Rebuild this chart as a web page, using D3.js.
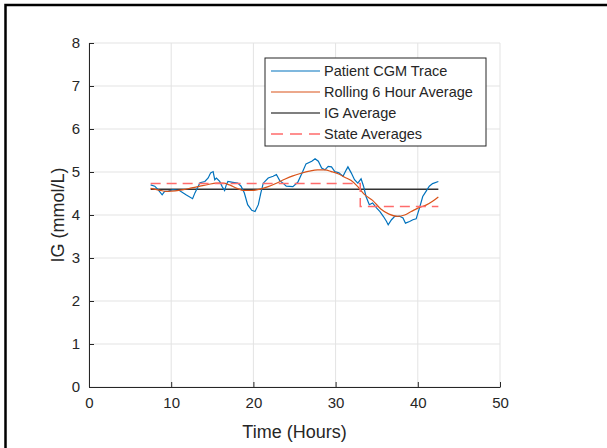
<!DOCTYPE html>
<html>
<head>
<meta charset="utf-8">
<script src="https://cdn.jsdelivr.net/npm/d3@7"></script>
<style>
  body { margin: 0; background: #fff; overflow: hidden; }
  text { font-family: "Liberation Sans", Arial, sans-serif; fill: #262626; }
</style>
</head>
<body>
<div id="chart"></div>
<script>
// CGM trace (hours, mmol/L)
var traceT = [7.5, 8.0, 8.4, 8.9, 9.2, 9.6, 10.2, 11.0, 11.8, 12.6, 12.9, 13.5, 14.1, 14.5, 14.8, 15.1, 15.3, 15.5, 15.9, 16.2,
              16.5, 16.7, 16.9, 17.5, 18.1, 18.5, 18.9, 19.3, 19.8, 20.2, 20.6, 20.9, 21.2, 21.8, 22.4, 22.8, 23.2, 23.6, 24.0, 24.8,
              25.4, 26.0, 26.4, 27.1, 27.5, 27.9, 28.3, 28.7, 29.1, 29.5, 29.9, 30.4, 30.9, 31.3, 31.5, 31.9, 32.3, 32.7, 33.1, 33.4,
              33.7, 34.1, 34.5, 35.0, 35.4, 35.8, 36.2, 36.4, 36.8, 37.2, 37.8, 38.2, 38.5, 39.0, 39.4, 39.8, 40.2, 40.6, 41.0, 41.4,
              41.8, 42.5];
var traceV = [4.70, 4.67, 4.59, 4.47, 4.55, 4.55, 4.59, 4.57, 4.47, 4.38, 4.52, 4.75, 4.78, 4.86, 4.98, 5.01, 4.82, 4.86, 4.78, 4.66,
              4.57, 4.70, 4.78, 4.76, 4.74, 4.67, 4.51, 4.24, 4.11, 4.08, 4.24, 4.51, 4.74, 4.86, 4.90, 4.94, 4.80, 4.74, 4.67, 4.66,
              4.76, 5.01, 5.19, 5.25, 5.31, 5.25, 5.09, 5.05, 5.13, 5.12, 5.01, 4.98, 4.90, 5.05, 5.12, 4.98, 4.82, 4.74, 4.84, 4.67,
              4.43, 4.24, 4.28, 4.16, 4.08, 3.97, 3.85, 3.77, 3.89, 3.97, 3.97, 3.93, 3.81, 3.85, 3.89, 3.91, 4.16, 4.43, 4.55, 4.67,
              4.73, 4.78];

// rolling 6 hour average
var rollT = [7.5, 8.5, 9.5, 10.5, 11.5, 12.5, 13.5, 14.5, 15.5, 16.3, 17.1, 18.0, 18.8, 19.8, 20.8, 21.8, 22.8, 23.8, 24.8, 25.8,
             26.8, 27.8, 28.7, 29.5, 30.3, 31.1, 31.9, 32.7, 33.5, 34.5, 35.5, 36.5, 37.5, 38.4, 39.2, 40.0, 41.0, 41.8, 42.5];
var rollV = [4.62, 4.58, 4.55, 4.56, 4.59, 4.63, 4.67, 4.71, 4.74, 4.74, 4.70, 4.62, 4.57, 4.57, 4.60, 4.66, 4.74, 4.83, 4.91, 4.97,
             5.02, 5.05, 5.05, 5.01, 4.96, 4.88, 4.80, 4.66, 4.48, 4.34, 4.14, 4.02, 3.97, 4.00, 4.08, 4.16, 4.23, 4.32, 4.42];

var igAverage = 4.60;
var stateT = [7.5, 33.0, 42.5];
var stateV = [4.73, 4.20, 4.20];

var xTicks = [0, 10, 20, 30, 40, 50];
var yTicks = [0, 1, 2, 3, 4, 5, 6, 7, 8];
var legendLabels = ["Patient CGM Trace", "Rolling 6 Hour Average", "IG Average", "State Averages"];

var W = 607, H = 448;
var margin = {left: 89, top: 43, right: 107, bottom: 61};
var iw = W - margin.left - margin.right, ih = H - margin.top - margin.bottom;

var svg = d3.select("#chart").append("svg").attr("width", W).attr("height", H);

// figure frame: only top and left edges show
svg.append("path").attr("d", "M5.5," + H + "V5H" + W)
   .attr("fill", "none").attr("stroke", "#000").attr("stroke-width", 2.5);

var g = svg.append("g").attr("transform", "translate(" + margin.left + "," + margin.top + ")");

var x = d3.scaleLinear().domain([0, 50]).range([0, iw]);
var y = d3.scaleLinear().domain([0, 8]).range([ih, 0]);

// grid
g.append("g").selectAll("line").data(xTicks).enter().append("line")
  .attr("x1", d => x(d)).attr("x2", d => x(d)).attr("y1", 0).attr("y2", ih)
  .attr("stroke", "#e3e3e3").attr("stroke-width", 1);
g.append("g").selectAll("line").data(yTicks).enter().append("line")
  .attr("x1", 0).attr("x2", iw).attr("y1", d => y(d)).attr("y2", d => y(d))
  .attr("stroke", "#e3e3e3").attr("stroke-width", 1);

// axes
var xAxis = g.append("g").attr("transform", "translate(0," + ih + ")")
  .call(d3.axisBottom(x).tickValues(xTicks).tickSizeInner(-5).tickSizeOuter(0).tickPadding(10));
var yAxis = g.append("g")
  .call(d3.axisLeft(y).tickValues(yTicks).tickSizeInner(-5).tickSizeOuter(0).tickPadding(9));
[xAxis, yAxis].forEach(function(a) {
  a.select(".domain").attr("stroke", "#262626");
  a.selectAll(".tick line").attr("stroke", "#262626");
  a.selectAll("text").attr("font-size", 15).attr("fill", "#262626")
   .attr("font-family", "'Liberation Sans', Arial, sans-serif");
});

var line = d3.line().x(d => x(d[0])).y(d => y(d[1]));

g.append("path").datum([[stateT[0], igAverage], [stateT[2], igAverage]])
  .attr("d", line).attr("fill", "none").attr("stroke", "#333").attr("stroke-width", 1.6);

g.append("path").datum(traceT.map((t, i) => [t, traceV[i]]))
  .attr("d", line).attr("fill", "none").attr("stroke", "#0072BD").attr("stroke-width", 1.2);

g.append("path").datum(rollT.map((t, i) => [t, rollV[i]]))
  .attr("d", d3.line().x(d => x(d[0])).y(d => y(d[1])).curve(d3.curveMonotoneX))
  .attr("fill", "none").attr("stroke", "#D95319").attr("stroke-width", 1.2);

g.append("path").datum(stateT.map((t, i) => [t, stateV[i]]))
  .attr("d", d3.line().x(d => x(d[0])).y(d => y(d[1])).curve(d3.curveStepAfter))
  .attr("fill", "none").attr("stroke", "#ff6b6b").attr("stroke-width", 1.5).attr("stroke-dasharray", "10,6");

// axis labels
g.append("text").attr("x", iw / 2).attr("y", ih + 51).attr("text-anchor", "middle")
  .attr("font-size", 18).text("Time (Hours)");
g.append("text").attr("transform", "translate(-25," + (ih / 2) + ") rotate(-90)")
  .attr("text-anchor", "middle").attr("font-size", 18).text("IG (mmol/L)");

// legend
var leg = svg.append("g").attr("transform", "translate(265,58)");
leg.append("rect").attr("width", 221).attr("height", 88).attr("fill", "#fff").attr("stroke", "#262626").attr("stroke-width", 1);
var legStyles = [
  {c: "#0072BD", w: 1.2, dash: null},
  {c: "#D95319", w: 1.2, dash: null},
  {c: "#000", w: 1.2, dash: null},
  {c: "#ff6b6b", w: 1.5, dash: "12,7"}
];
var items = leg.selectAll(".item").data(legendLabels).enter().append("g")
  .attr("transform", (d, i) => "translate(0," + (13 + i * 21) + ")");
items.append("line").attr("x1", 6).attr("x2", 55).attr("y1", 0).attr("y2", 0)
  .attr("stroke", (d, i) => legStyles[i].c).attr("stroke-width", (d, i) => legStyles[i].w)
  .attr("stroke-dasharray", (d, i) => legStyles[i].dash);
items.append("text").attr("x", 59).attr("y", 5).attr("font-size", 14.5).attr("fill", "#000").text(d => d);
</script>
</body>
</html>
